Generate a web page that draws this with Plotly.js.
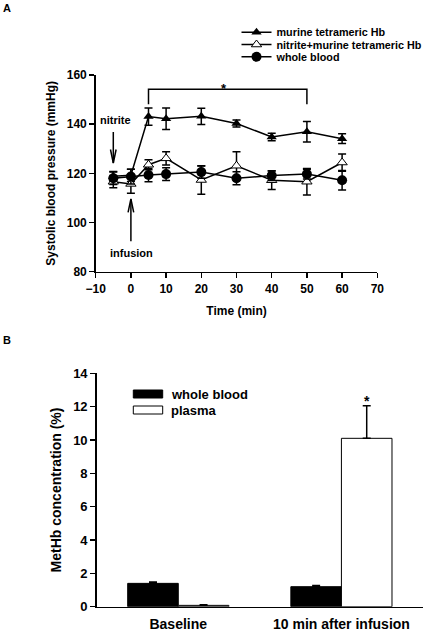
<!DOCTYPE html>
<html><head><meta charset="utf-8">
<script src="https://cdn.plot.ly/plotly-3.0.1.min.js"></script>
<style>html,body{margin:0;padding:0;background:#fff}#chart{width:423px;height:631px}</style>
</head><body><div id="chart"></div>
<script>
// Panel A data
const timeMin = [-5, 0, 5, 10, 20, 30, 40, 50, 60];
const murineHb = [118.8, 119.2, 143.1, 142.2, 143.2, 140.3, 134.8, 136.9, 134.1];
const murineHbErr = [2.0, 2.5, 3.5, 4.4, 3.3, 1.4, 1.5, 4.2, 2.0];
const nitriteHb = [116.6, 115.7, 123.5, 126.1, 117.3, 123.1, 117.2, 116.6, 124.4];
const nitriteHbErr = [2.5, 3.8, 2.0, 2.7, 5.8, 5.7, 3.8, 5.4, 3.5];
const wholeBloodBP = [118.0, 118.7, 119.3, 119.7, 120.5, 118.0, 119.1, 119.7, 117.2];
const wholeBloodBPErr = [2.5, 3.0, 2.7, 2.6, 2.5, 2.6, 2.0, 2.0, 4.0];
const seriesNamesA = ['murine tetrameric Hb', 'nitrite+murine tetrameric Hb', 'whole blood'];
const xTicksA = [-10, 0, 10, 20, 30, 40, 50, 60, 70];

// Panel B data
const metHbCategories = ['Baseline', '10 min after infusion'];
const metHbWholeBlood = [1.4, 1.2];
const metHbWholeBloodErr = [0.08, 0.07];
const metHbPlasma = [0.08, 10.1];
const metHbPlasmaErr = [0.03, 1.96];
const seriesNamesB = ['whole blood', 'plasma'];

const FF = 'Liberation Sans, Arial, sans-serif';
const W = 423, H = 631;
const px = v => v / W;
const py = v => 1 - v / H;
const bold = (s) => ({family: FF, size: s, color: '#000', weight: 'bold'});

function errs(arr) {
  return {type: 'data', array: arr, visible: true, color: '#000', thickness: 1.5, width: 4};
}
function errsUp(arr) {
  return {type: 'data', array: arr, arrayminus: arr.map(() => 0), symmetric: false, visible: true, color: '#000', thickness: 1.5, width: 4};
}

const traces = [
  {x: timeMin, y: murineHb, error_y: errs(murineHbErr), name: seriesNamesA[0], type: 'scatter', mode: 'lines+markers', legend: 'legend',
   line: {color: '#000', width: 1.5}, marker: {symbol: 'triangle-up', size: 9, color: '#000'}, xaxis: 'x', yaxis: 'y'},
  {x: timeMin, y: nitriteHb, error_y: errs(nitriteHbErr), name: seriesNamesA[1], type: 'scatter', mode: 'lines+markers', legend: 'legend2',
   line: {color: '#000', width: 1.5}, marker: {symbol: 'triangle-up', size: 9, color: '#fff', line: {color: '#000', width: 1}}, xaxis: 'x', yaxis: 'y'},
  {x: timeMin, y: wholeBloodBP, error_y: errs(wholeBloodBPErr), name: seriesNamesA[2], type: 'scatter', mode: 'lines+markers', legend: 'legend3',
   line: {color: '#000', width: 1.5}, marker: {symbol: 'circle', size: 10, color: '#000'}, xaxis: 'x', yaxis: 'y'},
  {x: metHbCategories, y: metHbWholeBlood, error_y: errsUp(metHbWholeBloodErr), name: seriesNamesB[0], type: 'bar',
   marker: {color: '#000', line: {color: '#000', width: 1}}, xaxis: 'x2', yaxis: 'y2', showlegend: false},
  {x: metHbCategories, y: metHbPlasma, error_y: errsUp(metHbPlasmaErr), name: seriesNamesB[1], type: 'bar',
   marker: {color: '#fff', line: {color: '#000', width: 1}}, xaxis: 'x2', yaxis: 'y2', showlegend: false}
];

const axisCommon = {showline: true, linecolor: '#000', linewidth: 1.5, ticks: 'outside', ticklen: 5, tickwidth: 1.5,
  tickcolor: '#000', showgrid: false, zeroline: false, tickfont: bold(12), automargin: false, fixedrange: true};

// Bracket / arrows in data units of panel A
const vx = 0.8, vy = 5.5;
const shapes = [
  {type: 'path', xref: 'x', yref: 'y', path: 'M5,148.1 L5,154.2 L50,154.2 L50,148.1', line: {color: '#000', width: 1.5}},
  {type: 'line', xref: 'x', yref: 'y', x0: -5, x1: -5, y0: 136.8, y1: 124.2, line: {color: '#000', width: 1.5}},
  {type: 'path', xref: 'x', yref: 'y', path: `M${-5 - vx},${124.2 + vy} L-5,124.2 L${-5 + vx},${124.2 + vy}`, line: {color: '#000', width: 1.5}},
  {type: 'line', xref: 'x', yref: 'y', x0: 0, x1: 0, y0: 92.4, y1: 109.6, line: {color: '#000', width: 1.5}},
  {type: 'path', xref: 'x', yref: 'y', path: `M${-vx},${109.6 - vy} L0,109.6 L${vx},${109.6 - vy}`, line: {color: '#000', width: 1.5}},
  // Panel B legend swatches
  {type: 'rect', xref: 'paper', yref: 'paper', x0: px(133.3), x1: px(162.7), y0: py(398), y1: py(390), fillcolor: '#000', line: {color: '#000', width: 1}},
  {type: 'rect', xref: 'paper', yref: 'paper', x0: px(133.3), x1: px(162.7), y0: py(414), y1: py(406), fillcolor: '#fff', line: {color: '#000', width: 1}}
];

const annotations = [
  {text: 'A', xref: 'paper', yref: 'paper', x: px(1), y: py(0), xanchor: 'left', yanchor: 'top', showarrow: false, font: bold(11)},
  {text: 'B', xref: 'paper', yref: 'paper', x: px(1), y: py(332), xanchor: 'left', yanchor: 'top', showarrow: false, font: bold(11)},
  {text: '*', xref: 'x', yref: 'y', x: 26.5, y: 154.4, xanchor: 'center', yanchor: 'middle', showarrow: false, font: bold(13)},
  {text: 'nitrite', xref: 'x', yref: 'y', x: -4.5, y: 141.7, xanchor: 'center', yanchor: 'middle', showarrow: false, font: bold(11)},
  {text: 'infusion', xref: 'x', yref: 'y', x: 0.3, y: 87.8, xanchor: 'center', yanchor: 'middle', showarrow: false, font: bold(11)},
  {text: '*', xref: 'x2', yref: 'y2', x: 1.155, y: 12.34, xanchor: 'center', yanchor: 'middle', showarrow: false, font: bold(14)},
  {text: seriesNamesB[0], xref: 'paper', yref: 'paper', x: px(169), y: py(394), xanchor: 'left', yanchor: 'middle', showarrow: false, font: bold(13)},
  {text: seriesNamesB[1], xref: 'paper', yref: 'paper', x: px(169), y: py(410), xanchor: 'left', yanchor: 'middle', showarrow: false, font: bold(13)}
];

const legendCommon = {x: px(236.5), xanchor: 'left', yanchor: 'middle', font: bold(10.8), bgcolor: 'rgba(0,0,0,0)', itemwidth: 30};

const layout = {
  width: W, height: H, margin: {l: 0, r: 0, t: 0, b: 0, pad: 0, autoexpand: false}, paper_bgcolor: '#fff', plot_bgcolor: '#fff',
  font: {family: FF, color: '#000'}, showlegend: true,
  legend: Object.assign({}, legendCommon, {y: py(32.2)}),
  legend2: Object.assign({}, legendCommon, {y: py(44.5)}),
  legend3: Object.assign({}, legendCommon, {y: py(56.8)}),
  xaxis: Object.assign({}, axisCommon, {domain: [px(95.7), px(377.3)], range: [-10, 70], tickvals: xTicksA, anchor: 'y',
    title: {text: 'Time (min)', font: bold(12), standoff: 12}}),
  yaxis: Object.assign({}, axisCommon, {domain: [py(271.7), py(75)], range: [80, 160], dtick: 20, tick0: 80, anchor: 'x',
    title: {text: 'Systolic blood pressure (mmHg)', font: bold(12), standoff: 8}}),
  xaxis2: Object.assign({}, axisCommon, {domain: [px(96.7), 1], range: [-0.5, 1.5], type: 'category', anchor: 'y2', ticks: '',
    ticklabelstandoff: 4, tickfont: bold(14), title: {text: ''}}),
  yaxis2: Object.assign({}, axisCommon, {domain: [py(606.7), py(373.3)], range: [0, 14], dtick: 2, tick0: 0, anchor: 'x2',
    tickfont: bold(13), title: {text: 'MetHb concentration (%)', font: bold(14), standoff: 8}}),
  barmode: 'group', bargap: 0.38, bargroupgap: 0,
  shapes: shapes, annotations: annotations
};

Plotly.newPlot('chart', traces, layout, {displayModeBar: false, staticPlot: true});
</script>
</body></html>
